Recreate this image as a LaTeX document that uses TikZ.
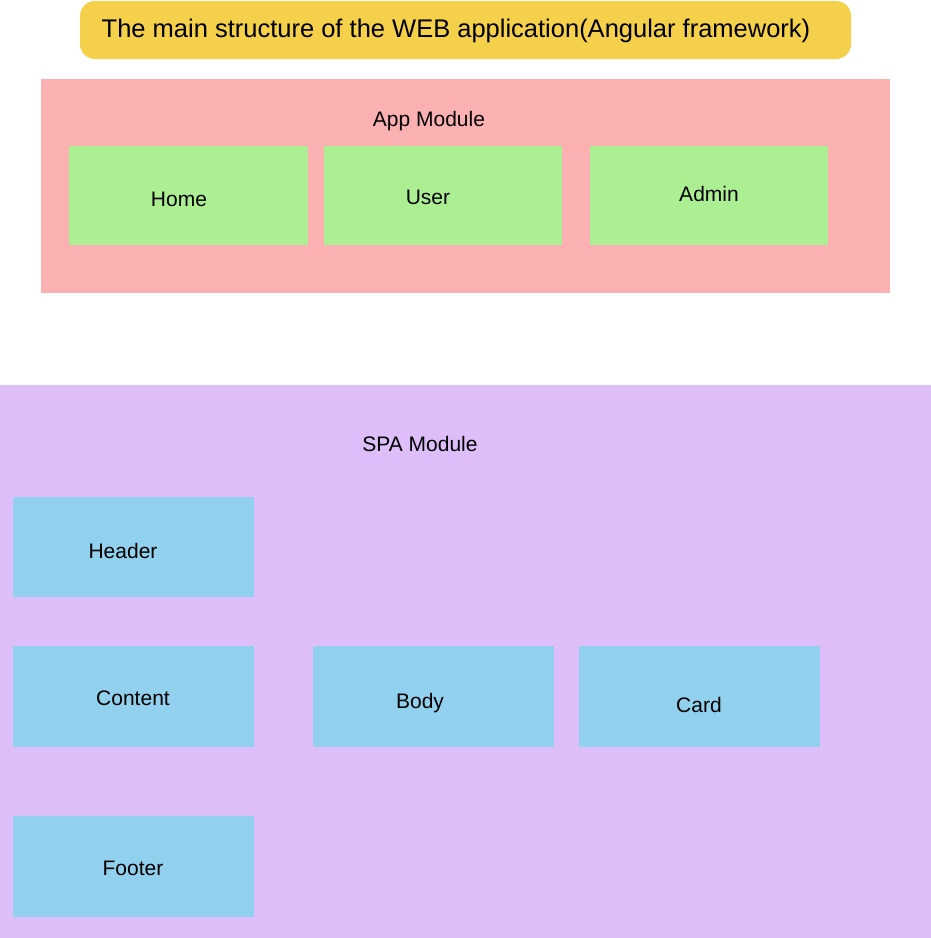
\documentclass[tikz,border=0pt]{standalone}
\usepackage{fontspec}
\setmainfont{Liberation Sans}
\definecolor{titley}{HTML}{F4D04B}
\definecolor{appp}{HTML}{FBB1B2}
\definecolor{compg}{HTML}{ABEF92}
\definecolor{spap}{HTML}{DDBEF8}
\definecolor{compb}{HTML}{92D1EE}
\begin{document}
\begin{tikzpicture}[x=1pt,y=-1pt,
  lbl/.style={inner sep=0pt, font=\fontsize{21}{24}\selectfont}]
\useasboundingbox (0,0) rectangle (931,938);
% title
\fill[titley, rounded corners=15pt] (80,1) rectangle (851,59);
\node[lbl, font=\fontsize{25.5}{29}\selectfont] (title) at (456,31) {The main structure of the WEB application(Angular framework)};
% App module
\fill[appp] (41,79) rectangle (890,293);
\node[lbl] (applbl) at (429,121) {App Module};
\fill[compg] (69,146) rectangle (308,245);
\node[lbl] (home) at (179,199) {Home};
\fill[compg] (324,146) rectangle (562,245);
\node[lbl] (user) at (428,197) {User};
\fill[compg] (590,146) rectangle (828,245);
\node[lbl] (admin) at (709,194) {Admin};
% SPA module
\fill[spap] (0,385) rectangle (931,938);
\node[lbl] (spalbl) at (420,444) {SPA Module};
\fill[compb] (13,497) rectangle (254,597);
\node[lbl] (header) at (123,551) {Header};
\fill[compb] (13,646) rectangle (254,747);
\node[lbl] (content) at (133,698) {Content};
\fill[compb] (313,646) rectangle (554,747);
\node[lbl] (body) at (420,703) {Body};
\fill[compb] (579,646) rectangle (820,747);
\node[lbl] (card) at (699,705) {Card};
\fill[compb] (13,816) rectangle (254,917);
\node[lbl] (footer) at (133,868) {Footer};
\end{tikzpicture}
\end{document}
